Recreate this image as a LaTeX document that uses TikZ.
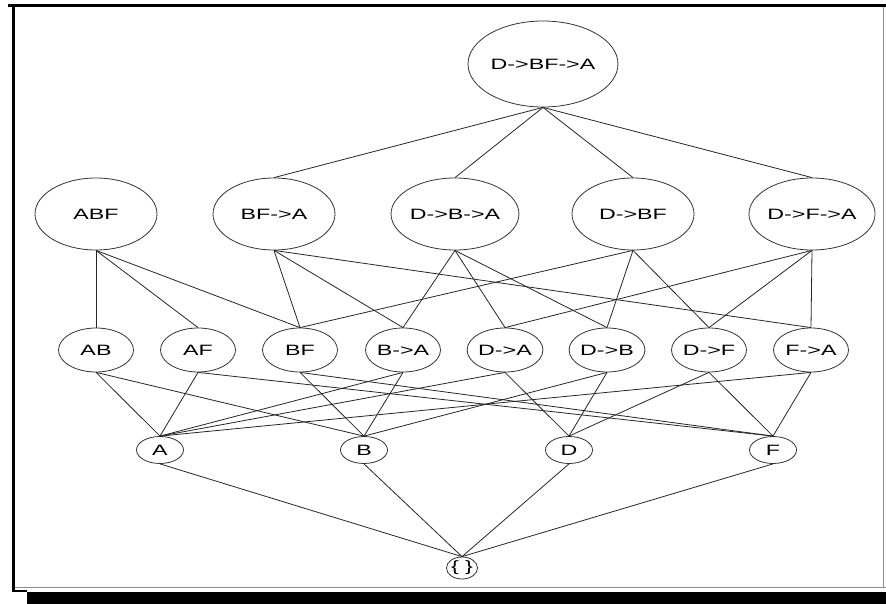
\documentclass[tikz,border=0pt]{standalone}
\usepackage{fontspec}
\setmainfont[FakeStretch=1.55]{Liberation Sans}
\usetikzlibrary{shapes.geometric}
\begin{document}
\begin{tikzpicture}[x=1pt,y=-1pt,
  lat/.style={ellipse,draw=black!80,line width=0.8pt,inner sep=0pt,font=\fontsize{15}{15}\selectfont},
  lvtop/.style={lat,minimum width=150pt,minimum height=86pt},
  lvbig/.style={lat,minimum width=122pt,minimum height=72pt},
  lvmid/.style={lat,minimum width=75pt,minimum height=44pt},
  lvsml/.style={lat,minimum width=47pt,minimum height=27pt},
  lvemp/.style={lat,minimum width=30pt,minimum height=22pt},
  conn/.style={draw=black!85,line width=0.8pt}]
\useasboundingbox (0,0) rectangle (886,604);
\fill[white] (0,0) rectangle (886,604);
% frame
\draw[black,line width=3pt] (8,5.5) -- (886,5.5);
\draw[black,line width=3pt] (13.5,4) -- (13.5,592);
\draw[black,line width=2pt] (13.5,591) -- (27,591);
\draw[black!45,line width=0.8pt] (15,587.5) -- (886,587.5);
\draw[black!45,line width=0.8pt] (883.5,7) -- (883.5,587.5);
\fill[black] (27,592) rectangle (886,604);
% nodes
\node[lvtop] (T) at (543,64) {D->BF->A};
\node[lvbig] (ABF) at (96,214) {ABF};
\node[lvbig] (BFA) at (274,214) {BF->A};
\node[lvbig] (DBA) at (455,214) {D->B->A};
\node[lvbig] (DBF) at (633,214) {D->BF};
\node[lvbig] (DFA) at (812,214) {D->F->A};
\node[lvmid] (AB) at (96,350) {AB};
\node[lvmid] (AF) at (198,350) {AF};
\node[lvmid] (BF) at (300,350) {BF};
\node[lvmid] (BA) at (403,350) {B->A};
\node[lvmid] (DA) at (505,350) {D->A};
\node[lvmid] (DB) at (607,350) {D->B};
\node[lvmid] (DF) at (709,350) {D->F};
\node[lvmid] (FA) at (811,350) {F->A};
\node[lvsml] (A) at (160,450) {A};
\node[lvsml] (B) at (364,450) {B};
\node[lvsml] (D) at (569,450) {D};
\node[lvsml] (F) at (773,450) {F};
\node[lvemp] (E) at (462,568) {\{ \}};
% edges top
\foreach \n in {BFA,DBA,DBF,DFA} \draw[conn] (T.south) -- (\n.north);
% row 2 to row 3
\foreach \a/\b in {ABF/AB,ABF/AF,ABF/BF,BFA/BF,BFA/BA,BFA/FA,DBA/BA,DBA/DA,DBA/DB,DBF/BF,DBF/DB,DBF/DF,DFA/DA,DFA/DF,DFA/FA}
  \draw[conn] (\a.south) -- (\b.north);
% row 3 to row 4
\foreach \a/\b in {AB/A,AB/B,AF/A,AF/F,BF/B,BF/F,BA/B,BA/A,DA/A,DA/D,DB/B,DB/D,DF/D,DF/F,FA/F,FA/A}
  \draw[conn] (\a.south) -- (\b.north);
% row 4 to bottom
\foreach \n in {A,B,D,F} \draw[conn] (\n.south) -- (E.north);
\end{tikzpicture}
\end{document}
